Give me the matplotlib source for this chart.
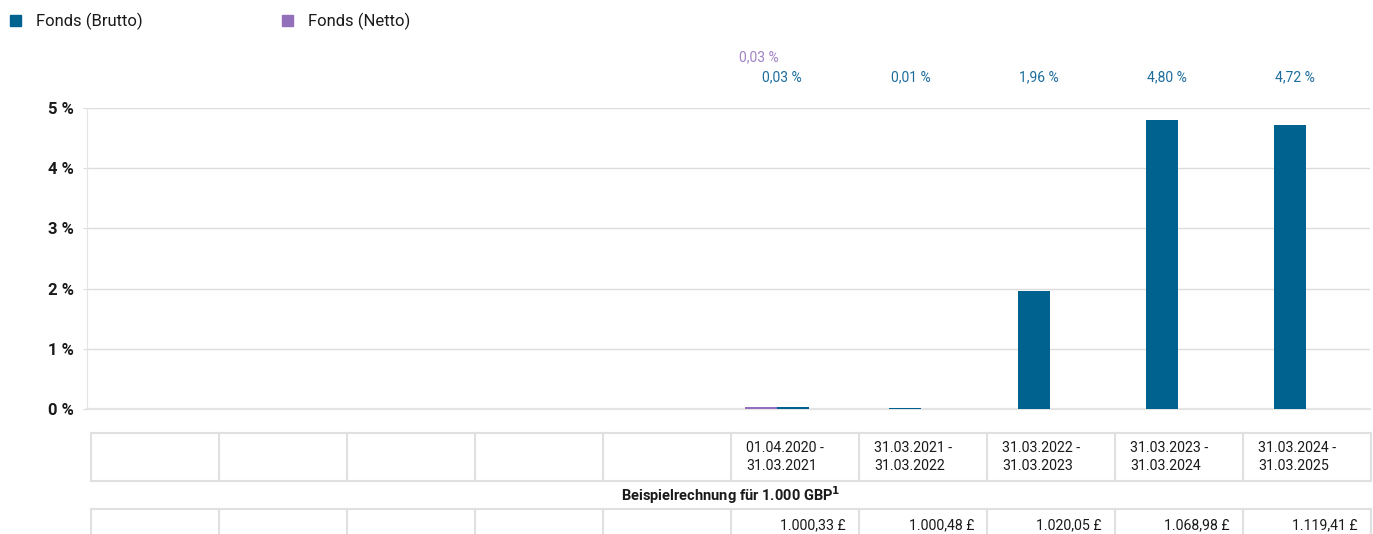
import numpy as np
import matplotlib
matplotlib.use('Agg')
import matplotlib.pyplot as plt
import matplotlib.transforms as mtransforms
from matplotlib.patches import Rectangle

plt.rcParams['font.family'] = ['Roboto', 'DejaVu Sans']

# data
periods = ['', '', '', '', '',
           '01.04.2020 -\n31.03.2021', '31.03.2021 -\n31.03.2022', '31.03.2022 -\n31.03.2023',
           '31.03.2023 -\n31.03.2024', '31.03.2024 -\n31.03.2025']
brutto = [None, None, None, None, None, 0.03, 0.01, 1.96, 4.80, 4.72]
netto = [None, None, None, None, None, 0.03, None, None, None, None]
example_values = ['', '', '', '', '', '1.000,33 £', '1.000,48 £', '1.020,05 £', '1.068,98 £', '1.119,41 £']
series_names = ['Fonds (Brutto)', 'Fonds (Netto)']
example_title = 'Beispielrechnung für 1.000 GBP'
yticks = [0, 1, 2, 3, 4, 5]

c_brutto = '#00628f'
c_netto = '#9370bb'
c_lab_brutto = '#1c6d9c'
c_lab_netto = '#a183c6'
grid_c = '#dcdcdc'

W, H = 1373, 534
fig = plt.figure(figsize=(W / 100, H / 100), dpi=100)

# overlay in pixel coordinates for legend/table
ov = fig.add_axes([0, 0, 1, 1])
ov.set_xlim(0, W)
ov.set_ylim(H, 0)
ov.axis('off')

left, right, top, bottom = 87, 1370, 108, 409
ax = fig.add_axes([left / W, (H - bottom) / H, (right - left) / W, (bottom - top) / H])

n = len(periods)
bw = 0.25
for i in range(n):
    vals = [(netto[i], c_netto), (brutto[i], c_brutto)]
    vals = [v for v in vals if v[0] is not None]
    k = len(vals)
    for j, (v, c) in enumerate(vals):
        off = (j - (k - 1) / 2) * bw
        ax.bar(i + off, v, width=bw, color=c, zorder=3)

ax.set_xlim(-0.378, 9.622)
ax.set_ylim(0, 5)
ax.set_yticks(yticks)
ax.set_yticklabels([f'{t} %' for t in yticks], fontsize=12, fontweight='bold', color='#1a1a1a')
ax.tick_params(axis='y', length=3, color=grid_c, pad=6.5)
ax.set_xticks([])
ax.grid(axis='y', color=grid_c, lw=1, zorder=0)
for s in ['top', 'right']:
    ax.spines[s].set_visible(False)
ax.spines['left'].set_color('#e4e4e4')
ax.spines['bottom'].set_color('#e4e4e4')
ax.spines['bottom'].set_linewidth(1.6)
ax.set_facecolor('none')

# value labels above the plot
blend = mtransforms.blended_transform_factory(ax.transData, ov.transData)
for i in range(n):
    if brutto[i] is not None:
        ax.text(i + 0.04, 77, f'{brutto[i]:.2f} %'.replace('.', ','), transform=blend,
                ha='center', va='center', fontsize=10, color=c_lab_brutto)
    if netto[i] is not None:
        ax.text(i - 0.14, 57, f'{netto[i]:.2f} %'.replace('.', ','), transform=blend,
                ha='center', va='center', fontsize=10, color=c_lab_netto)

# legend
for name, c, x0 in zip(series_names, [c_brutto, c_netto], [10, 282]):
    ov.add_patch(Rectangle((x0, 15), 11, 11, color=c))
    ov.text(x0 + 26, 21, name, fontsize=12, va='center', ha='left', color='#1a1a1a')

# table
line_c = '#e0e0e0'
tx0, tw = 91, 128
ty = [433, 481, 509, 540]
ov.plot([tx0, tx0 + tw * n], [ty[0], ty[0]], color=line_c, lw=1.5)
ov.plot([tx0, tx0 + tw * n], [ty[1], ty[1]], color=line_c, lw=1.5)
ov.plot([tx0, tx0 + tw * n], [ty[2], ty[2]], color=line_c, lw=1.5)
for i in range(n + 1):
    x = tx0 + tw * i
    ov.plot([x, x], [ty[0], ty[1]], color=line_c, lw=1.5)
    ov.plot([x, x], [ty[2], ty[3]], color=line_c, lw=1.5)
for i in range(n):
    xl = tx0 + tw * i
    if periods[i]:
        ov.text(xl + 15, 457, periods[i], fontsize=10.2, va='center', ha='left',
                color='#1a1a1a', linespacing=1.3)
    if example_values[i]:
        ov.text(xl + tw - 13, 525, example_values[i], fontsize=10.2, va='center', ha='right',
                color='#1a1a1a')
ov.text(tx0 + tw * n / 2, 495, example_title + r'$^{\mathbf{1}}$', fontsize=10.5, fontweight='bold',
        va='center', ha='center', color='#1a1a1a')

fig.savefig('out.png', dpi=100)
